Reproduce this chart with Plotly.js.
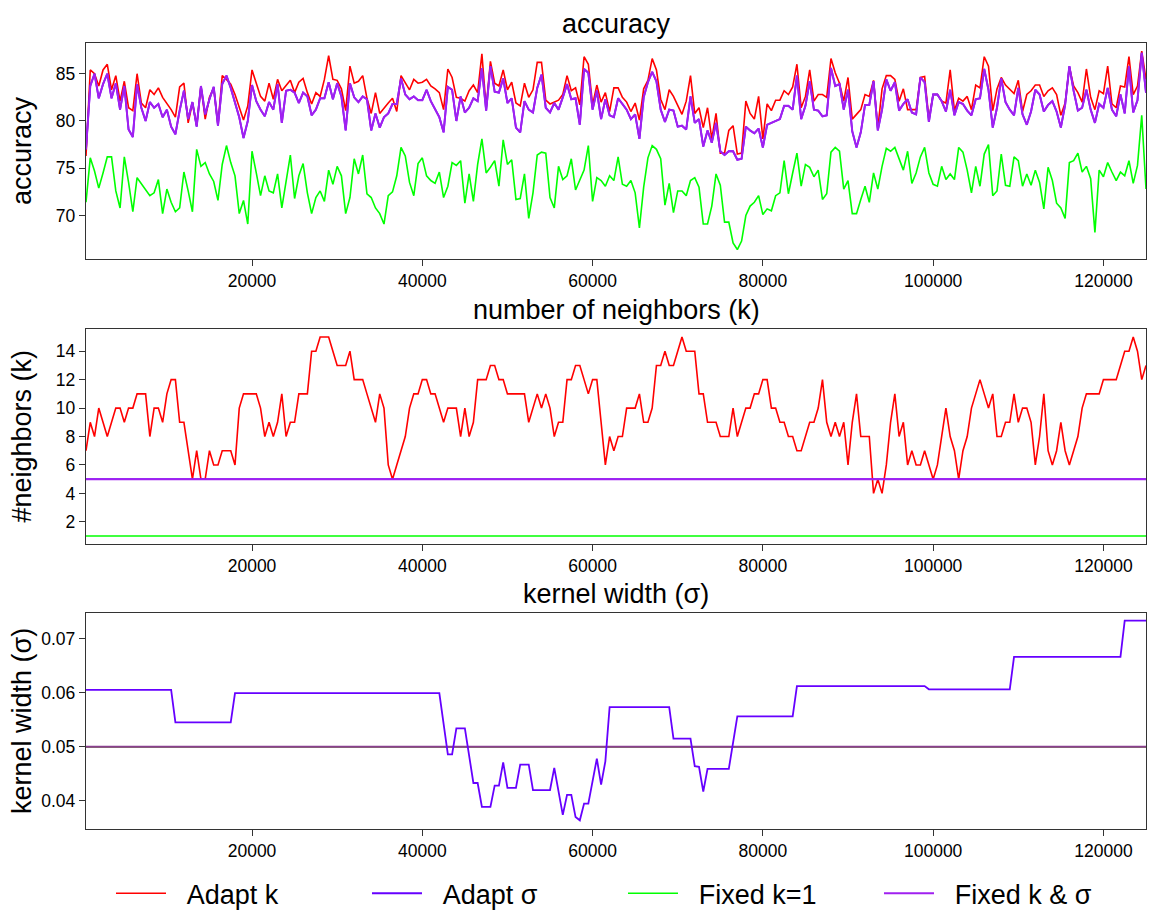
<!DOCTYPE html>
<html><head><meta charset="utf-8">
<script src="https://cdn.plot.ly/plotly-3.0.1.min.js"></script>
<style>html,body{margin:0;padding:0;background:#fff}</style>
</head><body><div id="chart" style="width:1149px;height:911px"></div>
<script>
// ---- data ----
const sampleStep = 500;          // one sample every 500 instances
const xStart = 500, xEnd = 125000;

const accAdaptK = [
76.3,85.4,85,83.7,85.4,86,83.3,84.8,82.1,84.2,
81.4,81.1,85,81.9,81.4,83.3,82.8,83.5,82.5,81.9,
81.2,80.4,83.6,84,79.8,81.9,79.5,83.7,80.2,82.5,
83.5,79.6,84.8,84.4,83.9,82.8,81.4,80.1,81.6,85.4,
84,82.6,82.1,84,82.3,84.4,83.2,83.7,84.3,83,
84.1,84.5,83,81.8,83,82.6,84.4,86.9,84.4,84.3,
83.4,81.1,85.8,84,84.2,84.8,82.4,80.8,83,80.8,
81.4,81.9,82.4,81,84.8,84,83.3,84.4,84,
84.1,84.4,83.7,83.4,83,81.2,85.5,84.6,82.5,82.4,82.1,
83.2,83.8,83,87.1,81.4,86.3,84,83.7,85.4,83.3,
84.1,81.9,81.6,84,82.5,83.3,86.2,86.2,82.2,81.8,
82,82.2,82.8,84.8,83.2,83.5,81.7,86.8,86,81.7,
83.8,82,83,81,83.5,83.5,82.5,82,81,81.9,
80.1,83.4,84.3,86.6,85.4,82.3,81.2,83.3,82.6,81.6,
80.7,82.1,84.8,80.8,81.4,79.3,81.4,78.1,80.8,76.6,
76.6,79,79.5,76.5,76.6,82.1,80.8,80.2,82.6,
78.1,81.8,81.1,82.2,82.2,83.2,82.8,83.6,86,81.4,82.6,
85.4,82.1,82.8,82.8,82.5,86.6,85.1,84,82.1,84.6,
80.2,80.7,81.2,82.8,82.6,84.3,79.2,83.4,84.8,84.8,
84.4,82.1,83.4,81.2,81.2,81.2,84.6,84.7,80.2,82.8,
82.8,82.1,81.9,85.4,81.1,82.4,82.1,82.6,81.2,83.8,
83.5,86.8,85.8,81.1,83.4,84.6,83.8,83.4,82.9,84.3,
81,82.8,83.2,83.8,83.8,82.6,83.2,83.5,82.8,80.6,
81.9,85.7,83.7,83,82,85.5,82.5,81.2,83.2,82.9,
85.8,81.8,81.4,83.7,83.6,86.8,82.8,83.7,87.4,84.4];

const accFixedKSigma = [
77,83.7,85,82.4,83.9,85,82.4,84,81.2,83.7,
79.1,78.3,83.9,81.4,80,82,81.4,81.8,80.4,81.2,
79.4,78.6,81.1,83.2,80.2,82,79.4,83.7,80.7,82.3,
83.6,79.5,83.9,84.8,83.5,81.9,80.4,78.2,80,83.8,
82.1,81.2,80.5,82,81.2,83.9,79.8,83.2,83.3,83,
81.9,83,82.6,80.6,81.2,82.4,82.4,84.1,82.3,84,
82.6,79,84,82.5,82,82.6,82.3,79,80.8,79.3,
80.4,80.8,81.8,81.8,84.5,82.8,82.3,82.6,82.2,
82.2,83.3,82.1,81.2,80.4,78.8,83.6,83.3,80,82.6,80.9,
81.4,82.4,82.1,85.6,81.1,85.8,83.1,83,84.5,81.9,
82.4,79.3,78.8,82.1,81.2,80.9,83.5,84.9,81.4,80.9,
81.9,81.2,82.5,83.9,82.3,82.4,79.6,85.5,85.1,81.2,
83.2,80.2,82.3,80.6,80.4,82.4,81.8,81.2,80.2,80.7,
78.1,82.5,84.1,85.2,84.2,81.2,79.9,81.2,81.1,79.4,
79.5,79.1,82.6,79.8,80.2,77.3,79,77.7,79.8,76.8,
76.4,76.8,76.8,75.9,76,79.4,79,78.7,79.2,
77.2,79.6,79.8,80,80.2,81.6,81.6,81.2,84.8,80.2,81.6,
84.2,81.2,81.1,80.5,80.6,85.6,83.7,83.9,81.2,83.3,
78.9,77.2,78.8,81.7,81.7,84.2,79,81.2,84.4,83.2,
84.1,81.1,81.8,82.3,80.9,80.7,84.6,84.1,79.9,82.8,
82.8,82.1,81,83.3,80.6,82,81.8,81.1,80.6,82.3,
82.4,85.5,83.3,79.3,81.4,84.5,82,81.2,80.6,83.5,
80.7,79.6,81,83.3,82.8,81,81.7,82.1,81,79.3,
81.7,85.8,83.2,81.1,81.4,83.3,81.2,79.8,81.8,81.4,
83.5,81.2,80.5,82.8,80.8,85.8,80.9,82.2,87.2,83];

// Adapt sigma accuracy is hidden beneath the Fixed k & sigma line
const accAdaptSigma = accFixedKSigma;

const accFixedK1 = [
71.4,76.1,74.7,72.9,74.5,76.2,76.2,72.6,70.8,76.2,
73.5,70.4,74,73.4,72.7,72.1,72.4,73.8,70.2,72.8,
71.4,70.4,70.8,74.6,72.6,70.4,77,75.2,75.6,74.4,
73.6,71.6,75.4,77.4,75.6,74.2,70.2,71.6,69.1,76.8,
74.5,72.1,74.2,72.6,72.4,74.4,70.8,73.8,76.4,71.8,
74.2,75.5,72.4,70.2,71.9,72.6,71.5,74.8,73.3,75.2,
74.2,70.2,71.9,76,74.4,76.4,72.3,71.9,70.8,70.2,
69.1,72.1,72.5,74.2,77.2,76.3,73.5,72.1,75.5,
76.1,74.2,73.7,73.4,74.6,71.9,73.1,75.6,75.3,75.8,71.3,
74.4,71.5,75.4,78.1,74.5,75.1,75.8,73.1,78,75.4,
75.9,71.7,71.8,74.4,69.7,72.4,76.4,76.7,76.6,71.9,
70.8,75.2,73.8,74.2,76,72.7,73.8,74.8,77.4,71.5,
74,73.7,73.1,74.2,73.7,76.2,73.3,73.1,73.7,72.4,
68.7,73,76.1,77.4,77,76,71.1,73.4,70.3,72.6,
72.6,72.1,73.7,74,73,69.1,69.1,71,74.4,73.2,
69.3,69.3,67.1,66.4,67.3,70,71,71.4,72.1,
70.1,70.7,70.5,72.1,72.4,75.8,72.3,74.5,76.6,73.1,75.4,
75.1,74.1,74.8,71.7,72.3,76.7,77.2,76.8,72.8,73.7,
70.2,70.2,71.7,73.1,71.4,74.5,72.8,75.2,77.1,76.8,
77.2,76,74.8,76.8,73.4,74.5,76.2,77.2,74.5,73.3,
73.1,75.2,73.8,74.4,73.8,77.2,76.7,74.8,72.4,75.2,
73.1,76.5,77.5,72.1,72.6,76.5,73.2,73.1,76.2,75.8,
73.1,74.4,73.2,74.8,73.5,70.7,75.1,73.7,71.3,70.8,
69.7,75.6,75.8,76.6,74.6,75.2,73.9,68.2,74.8,74.1,
75.6,74.6,73.7,74.6,74.2,75.8,73.4,75.3,80.6,72.8];

const kAdaptK = [
7,9,8,10,9,8,9,10,10,9,
10,10,11,11,11,8,10,10,9,11,
12,12,9,9,7,5,7,5,5,7,
6,6,7,7,7,6,10,11,11,11,
11,10,8,9,8,9,11,8,9,9,
11,11,11,14,14,15,15,15,14,13,
13,13,14,12,12,12,11,10,9,11,
10,6,5,6,7,8,10,11,11,12,
12,11,11,10,
9,10,10,10,8,10,8,9,12,12,
12,13,13,12,12,11,11,11,11,11,
9,10,11,10,11,10,8,9,9,12,
12,13,13,12,11,12,12,9,6,8,
7,8,8,10,10,10,11,9,9,10,
13,13,14,13,13,14,15,14,14,14,
11,11,9,9,9,8,8,8,10,8,
9,10,10,11,11,12,12,10,10,9,
9,8,8,7,7,8,9,9,10,12,
9,8,9,8,9,6,9,11,8,8,
8,4,5,4,6,9,11,8,9,6,
7,6,6,7,6,5,6,8,10,8,
7,5,7,8,10,11,12,11,10,11,
8,8,9,9,11,9,10,10,9,6,
8,11,7,6,7,9,7,6,7,8,
10,11,11,11,11,12,12,12,12,13,
14,14,15,14,12,13];
const kAdaptSigma = 5;
const kFixedK1 = 1;
const kFixedKSigma = 5;

const sigmaAdaptX = [500,10500,11000,17500,18000,42000,43000,43500,44000,45000,
  46000,46500,47000,48000,48500,49000,49500,50000,51000,51500,52500,53000,55000,
  55500,56500,57000,57500,58000,58500,59000,59500,60500,61000,61500,62000,69000,
  69500,71500,72000,72500,73000,73500,76000,77000,83500,84000,99000,99500,109000,
  109500,122000,122500,125000];
const sigmaAdaptY = [0.0605,0.0605,0.0545,0.0545,0.0599,0.0599,0.0486,0.0486,0.0534,0.0534,
  0.0433,0.0433,0.0389,0.0389,0.0428,0.0428,0.0471,0.0424,0.0424,0.0467,0.0467,0.0420,0.0420,
  0.0461,0.0374,0.0411,0.0411,0.0370,0.0364,0.0395,0.0395,0.0478,0.0430,0.0473,0.0573,0.0573,
  0.0515,0.0515,0.0464,0.0463,0.0417,0.0459,0.0459,0.0556,0.0556,0.0612,0.0612,0.0606,0.0606,
  0.0666,0.0666,0.0733,0.0733];
const sigmaAdaptK = 0.05;
const sigmaFixedK1 = 0.05;
const sigmaFixedKSigma = 0.05;

const seriesNames = ['Adapt k', 'Adapt σ', 'Fixed k=1', 'Fixed k & σ'];
const xTickVals = [20000, 40000, 60000, 80000, 100000, 120000];
const accTicks = [70, 75, 80, 85];
const kTicks = [2, 4, 6, 8, 10, 12, 14];
const sigmaTicks = [0.04, 0.05, 0.06, 0.07];
const panelTitles = ['accuracy', 'number of neighbors (k)', 'kernel width (σ)'];
const axisTitles = ['accuracy', '#neighbors (k)', 'kernel width (σ)'];

// ---- styling ----
const colors = ['#FF0000', '#6600FF', '#00FF00', '#A020F0'];
const widths = [1.6, 1.8, 1.6, 2.0];
const sigmaFixedColor = '#8A3F8F';   // overlapping fixed lines in the sigma panel
const FONT = 'Liberation Sans, Arial, Helvetica, sans-serif';
const LEGEND_PAD = '\u2002\u200A';

const xs = accAdaptK.map((_, i) => xStart + sampleStep * i);
const flat = v => ({x: [xStart, xEnd], y: [v, v]});

function tr(idx, data, xa, ya, show, color) {
  return {type: 'scatter', mode: 'lines', x: data.x, y: data.y, xaxis: xa, yaxis: ya,
    name: LEGEND_PAD + seriesNames[idx], legendgroup: seriesNames[idx], showlegend: show,
    line: {color: color || colors[idx], width: widths[idx]}, hoverinfo: 'skip'};
}

const traces = [
  tr(0, {x: xs, y: accAdaptK}, 'x', 'y', true),
  tr(1, {x: xs, y: accAdaptSigma}, 'x', 'y', true),
  tr(2, {x: xs, y: accFixedK1}, 'x', 'y', true),
  tr(3, {x: xs, y: accFixedKSigma}, 'x', 'y', true),
  tr(0, {x: xs, y: kAdaptK}, 'x2', 'y2', false),
  tr(1, flat(kAdaptSigma), 'x2', 'y2', false),
  tr(2, flat(kFixedK1), 'x2', 'y2', false),
  tr(3, flat(kFixedKSigma), 'x2', 'y2', false),
  tr(0, flat(sigmaAdaptK), 'x3', 'y3', false),
  tr(2, flat(sigmaFixedK1), 'x3', 'y3', false),
  tr(3, flat(sigmaFixedKSigma), 'x3', 'y3', false, sigmaFixedColor),
  tr(1, {x: sigmaAdaptX, y: sigmaAdaptY}, 'x3', 'y3', false)
];

const axBase = {showgrid: false, zeroline: false, showline: true, mirror: true,
  linecolor: '#333', linewidth: 1.2, ticks: 'outside', ticklen: 6, tickwidth: 1,
  tickcolor: '#333', tickfont: {family: FONT, size: 17.5, color: '#000'}};
const xAx = anchor => Object.assign({}, axBase, {anchor: anchor, range: [xStart, xEnd],
  tickmode: 'array', tickvals: xTickVals, ticktext: xTickVals.map(String)});

// plot area spans y = 43..829 px; panels at 43-259, 329-544, 613-829 px
const domains = [[0.7252, 1], [0.3626, 0.6361], [0, 0.2748]];

const annotations = [];
panelTitles.forEach((t, i) => annotations.push({text: t, xref: 'paper', yref: 'paper',
  x: 0.5, y: domains[i][1], xanchor: 'center', yanchor: 'bottom', yshift: 2,
  showarrow: false, font: {family: FONT, size: 27, color: '#000'}}));
axisTitles.forEach((t, i) => annotations.push({text: t, xref: 'paper', yref: 'paper',
  x: 0, y: (domains[i][0] + domains[i][1]) / 2, xanchor: 'center', yanchor: 'middle',
  xshift: -64, textangle: -90, showarrow: false,
  font: {family: FONT, size: 27, color: '#000'}}));

const layout = {
  width: 1149, height: 911,
  margin: {l: 86, r: 3, t: 43, b: 82, autoexpand: false},
  paper_bgcolor: '#fff', plot_bgcolor: '#fff',
  font: {family: FONT, color: '#000'},
  xaxis: xAx('y'), xaxis2: xAx('y2'), xaxis3: xAx('y3'),
  yaxis: Object.assign({}, axBase, {domain: domains[0], anchor: 'x', range: [65.4, 88.25],
    tickmode: 'array', tickvals: accTicks, ticktext: accTicks.map(String)}),
  yaxis2: Object.assign({}, axBase, {domain: domains[1], anchor: 'x2', range: [0.44, 15.56],
    tickmode: 'array', tickvals: kTicks, ticktext: kTicks.map(String)}),
  yaxis3: Object.assign({}, axBase, {domain: domains[2], anchor: 'x3', range: [0.0348, 0.0747],
    tickmode: 'array', tickvals: sigmaTicks, ticktext: sigmaTicks.map(v => v.toFixed(2))}),
  showlegend: true,
  legend: {orientation: 'h', xref: 'container', yref: 'container',
    x: 0.0966, xanchor: 'left', y: 0.019, yanchor: 'middle',
    font: {family: FONT, size: 27, color: '#000'}, itemwidth: 50,
    entrywidth: 191, entrywidthmode: 'pixels', bgcolor: 'rgba(0,0,0,0)', borderwidth: 0,
    traceorder: 'normal'},
  annotations: annotations
};

Plotly.newPlot('chart', traces, layout, {staticPlot: true, displayModeBar: false});
</script>
</body></html>
